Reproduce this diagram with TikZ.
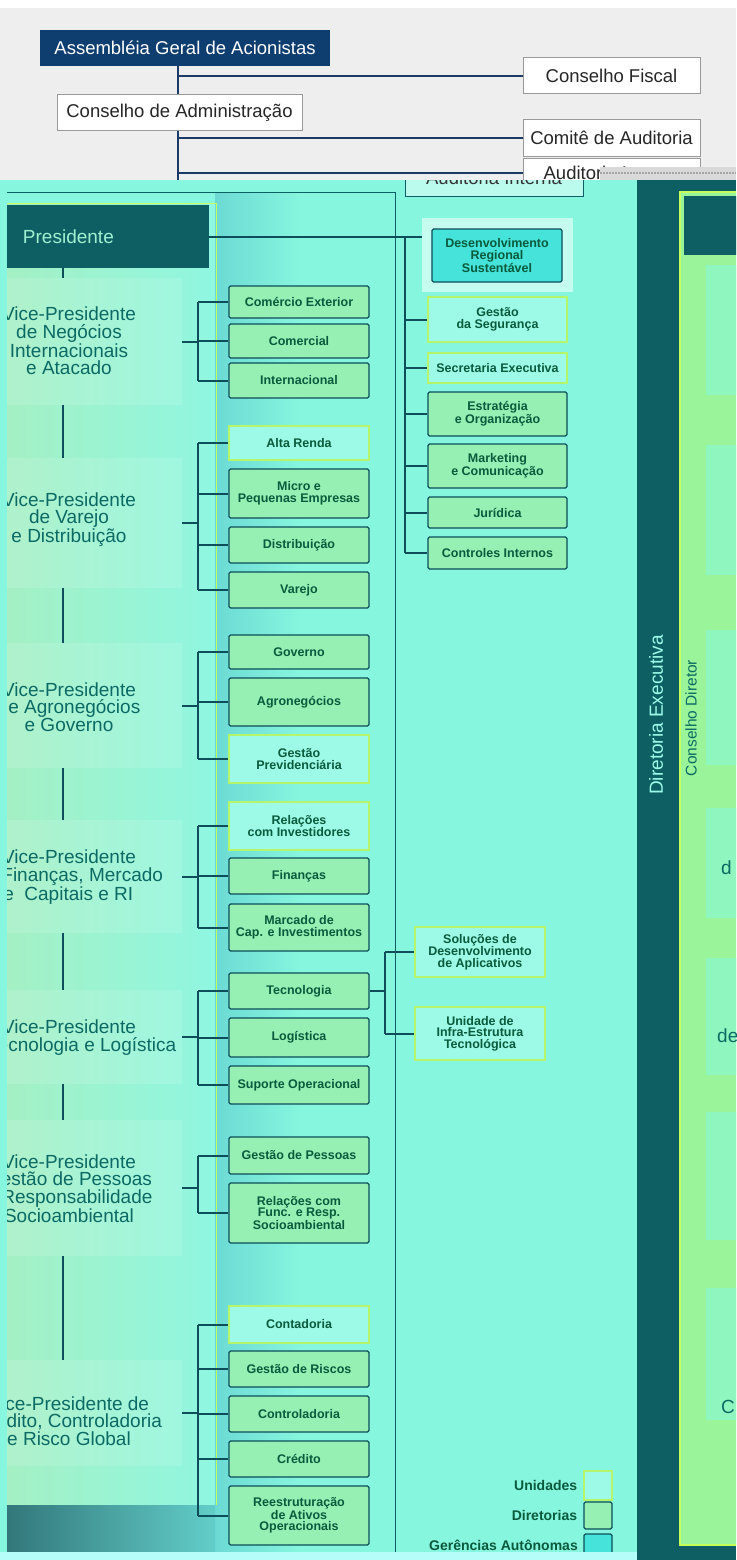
\documentclass[tikz,border=0pt]{standalone}
\usepackage{fontspec}
\setmainfont{Liberation Sans}
\usetikzlibrary{positioning}
\definecolor{navyln}{HTML}{1B3A68}
\definecolor{agcblue}{HTML}{0E3D6F}
\definecolor{topgray}{HTML}{EEEEEE}
\definecolor{aqua}{HTML}{86F6DE}
\definecolor{dkteal}{HTML}{0E5F63}
\definecolor{linkcol}{HTML}{0D4E5A}
\definecolor{txtgreen}{HTML}{0A5A3C}
\definecolor{vpcol}{HTML}{0B6A64}
\definecolor{presfg}{HTML}{9FF0D0}
\definecolor{unitfill}{HTML}{9CFAE6}
\definecolor{unitedge}{HTML}{B4F56A}
\definecolor{dirfill}{HTML}{96F0B4}
\definecolor{gerfill}{HTML}{45E3D9}
\definecolor{panelgreen}{HTML}{9AF59A}
\definecolor{limeedge}{HTML}{C6FF5A}
\definecolor{leftgreen}{HTML}{A4F0C4}
\definecolor{bandcyan}{HTML}{6CDAD4}
\newcommand{\boxfont}{\fontsize{12.5}{11.5}\selectfont\bfseries}
\newcommand{\vpfont}{\fontsize{19}{17.5}\selectfont}
\newcommand{\topfont}{\fontsize{18.5}{20}\selectfont}

\begin{document}
\begin{tikzpicture}[
        x=1pt, y=-1pt,
        link/.style={draw=linkcol, line width=2pt},
        topline/.style={draw=navyln, line width=2.5pt},
        wbox/.style={draw=gray!80, fill=white, line width=1pt, font=\topfont, text=black!85,
            minimum width=177pt, minimum height=36pt, inner sep=2pt},
        base/.style={align=center, font=\boxfont, text=txtgreen, minimum width=140pt, inner sep=1pt},
        unitbox/.style={base, fill=unitfill, draw=unitedge, line width=1.2pt},
        dirbox/.style={base, fill=dirfill, draw=linkcol, line width=1.3pt, rounded corners=1.5pt},
        gerbox/.style={base, fill=gerfill, draw=linkcol, line width=1.3pt, rounded corners=1.5pt},
        vppanel/.style={fill=white, fill opacity=0.12, minimum width=175pt, inner sep=0pt},
        vptext/.style={align=center, font=\vpfont, text=vpcol, inner sep=0pt},
        legtext/.style={font=\fontsize{14}{16}\selectfont\bfseries, text=txtgreen, inner sep=0pt}
    ]
    \useasboundingbox (0,0) rectangle (736,1560);

    % conselhos
    \begin{scope}
        \clip (0,0) rectangle (736,180);
        \fill[white] (0,0) rectangle (736,180);
        \fill[topgray] (0,8) rectangle (736,180);
        \node[fill=agcblue, text=white, font=\topfont, minimum width=290pt, minimum height=36pt] (agc) at (185,48) {Assembléia Geral de Acionistas};
        \node[wbox, minimum width=245pt] (cadm) at (179.5,113) {Conselho de Administração};
        \node[wbox] (cfis) at (611.5,76) {Conselho Fiscal};
        \node[wbox] (caud) at (611.5,138) {Comitê de Auditoria};
        \node[wbox, minimum height=30pt] (audi) at (611.5,173) {Auditoria Interna};
        \coordinate (trunk) at (178,0);
        \coordinate (trunkend) at (178,185);
        \draw[topline] (agc.south -| trunk) -- (cadm.north -| trunk);
        \draw[topline] (cadm.south -| trunk) -- (trunkend);
        \foreach \n in {cfis,caud,audi}
            \draw[topline] (trunk |- \n.west) -- (\n.west);
        \fill[gray!30] (600,167) rectangle (736,180);
        \draw[gray!70, dash pattern=on 1.5pt off 1.5pt, line width=2pt] (600,173) -- (736,173);
    \end{scope}

    \begin{scope}
        \clip (0,180) rectangle (736,1560);
        \fill[aqua] (0,180) rectangle (736,1560);
        \shade[left color=leftgreen, right color=aqua!92!white] (7,203) rectangle (215,1505);
        \shade[left color=bandcyan, right color=aqua] (215,192) rectangle (300,1552);
        \shade[left color=dkteal!85, right color=bandcyan!90!dkteal] (7,1505) rectangle (215,1552);
        \draw[dkteal, line width=0.8pt] (7,192) -- (395,192) -- (395,1552);
        \draw[limeedge, line width=1pt] (7,203) -- (216,203) -- (216,1505);
        \node[draw=dkteal, fill=unitfill!70!white, line width=1pt, font=\topfont, text=black!80,
            minimum width=178pt, minimum height=36pt] (audl) at (494,178) {Auditoria Interna};

        % diretoria executiva
        \fill[dkteal] (637,180) rectangle (736,1560);
        \filldraw[fill=panelgreen, draw=limeedge, line width=1.5pt] (680,192) rectangle (740,1545);
        \fill[dkteal] (684,196) rectangle (740,255);
        \foreach \a/\b in {265/395, 445/575, 630/765, 808/918, 958/1075, 1112/1240, 1288/1420}
            \fill[aqua!55!panelgreen] (706,\a) rectangle (740,\b);
        \node[rotate=90, font=\fontsize{19}{20}\selectfont, text=unitfill] (direx) at (656,715) {Diretoria Executiva};
        \node[rotate=90, font=\fontsize{15.5}{17}\selectfont, text=vpcol] (cdir) at (691,718) {Conselho Diretor};
        \node[vptext, anchor=west] (rf1) at (721,868) {d};
        \node[vptext, anchor=west] (rf2) at (717,1036) {de};
        \node[vptext, anchor=west] (rf3) at (721,1407) {C};

        % presidente
        \node[fill=dkteal, text=presfg, font=\fontsize{19}{20}\selectfont, text width=170pt, align=left,
            inner xsep=16pt, minimum height=63pt] (pres) at (108,236.5) {Presidente};

        % vice-presidencias
        \foreach \n/\y/\h in {vp1/341.5/127, vp2/523/130, vp3/705.5/125, vp4/876.5/113, vp5/1037/94, vp6/1188/136, vp7/1413/106}
            \node[vppanel, minimum height=\h] (\n) at (94.5,\y) {};
        \begin{scope}
            \clip (7,180) rectangle (220,1560);
            \node[vptext] (vp1t) at (69,341) {Vice-Presidente\\de Negócios\\Internacionais\\e Atacado};
            \node[vptext] (vp2t) at (69,519.5) {Vice-Presidente\\de Varejo\\e Distribuição};
            \node[vptext] (vp3t) at (69,707) {Vice-Presidente\\de Agronegócios\\e Governo};
            \node[vptext] (vp4t) at (69,877) {Vice-Presidente\\de Finanças, Mercado\\de\ \ Capitais e RI\hspace*{12pt}};
            \node[vptext] (vp5t) at (69,1037.5) {Vice-Presidente\\de Tecnologia e Logística};
            \node[vptext] (vp6t) at (69,1188.5) {Vice-Presidente\\Gestão de Pessoas\\e Responsabilidade\\Socioambiental};
            \node[vptext] (vp7t) at (69,1421) {Vice-Presidente de\\Crédito, Controladoria\\e Risco Global};
        \end{scope}

        % diretorias e unidades
        \foreach \n/\y/\h/\s/\t in {
                c11/302/32/dirbox/{Comércio Exterior}, c12/341/34/dirbox/{Comercial}, c13/380.5/35/dirbox/{Internacional},
                c21/443/34/unitbox/{Alta Renda}, c22/493.5/49/dirbox/{Micro e\\Pequenas Empresas},
                c23/545/36/dirbox/{Distribuição}, c24/590/36/dirbox/{Varejo},
                c31/652/34/dirbox/{Governo}, c32/702/48/dirbox/{Agronegócios}, c33/759/48/unitbox/{Gestão\\Previdenciária},
                c41/826/48/unitbox/{Relações\\com Investidores}, c42/876/36/dirbox/{Finanças},
                c43/927.5/47/dirbox/{Marcado de\\Cap. e Investimentos},
                c51/991/36/dirbox/{Tecnologia}, c52/1037.5/39/dirbox/{Logística}, c53/1085/38/dirbox/{Suporte Operacional},
                c61/1155.5/37/dirbox/{Gestão de Pessoas}, c62/1213/60/dirbox/{Relações com\\Func. e Resp.\\Socioambiental},
                c71/1324.5/37/unitbox/{Contadoria}, c72/1369/36/dirbox/{Gestão de Riscos}, c73/1414/36/dirbox/{Controladoria},
                c74/1459/36/dirbox/{Crédito}, c75/1515.5/59/dirbox/{Reestruturação\\de Ativos\\Operacionais}}
            \node[\s, minimum height=\h] (\n) at (299,\y) {\t};

        \node[unitbox, minimum width=130pt, minimum height=50pt] (t1) at (480,952) {Soluções de\\Desenvolvimento\\de Aplicativos};
        \node[unitbox, minimum width=130pt, minimum height=53pt] (t2) at (480,1033.5) {Unidade de\\Infra-Estrutura\\Tecnológica};

        % orgaos ligados ao presidente
        \node[fill=unitfill!60!white, minimum width=151pt, minimum height=74pt] (devhalo) at (497.5,255) {};
        \node[gerbox, minimum width=130pt, minimum height=53pt] (s1) at (497,255.5) {Desenvolvimento\\Regional\\Sustentável};
        \foreach \n/\y/\h/\s/\t in {s2/319.5/45/unitbox/{Gestão\\da Segurança}, s3/368/30/unitbox/{Secretaria Executiva},
                s4/414/44/dirbox/{Estratégia\\e Organização}, s5/466/44/dirbox/{Marketing\\e Comunicação},
                s6/512.5/31/dirbox/{Jurídica}, s7/553/32/dirbox/{Controles Internos}}
            \node[\s, minimum width=139pt, minimum height=\h] (\n) at (497.5,\y) {\t};

        % ligacoes
        \coordinate (vspine) at (63,0);
        \coordinate (fork) at (198,0);
        \coordinate (tfork) at (385,0);
        \coordinate (stf) at (405,0);
        \draw[link] (pres.south -| vspine) -- (vp1.north -| vspine);
        \foreach \a/\b in {vp1/vp2, vp2/vp3, vp3/vp4, vp4/vp5, vp5/vp6, vp6/vp7}
            \draw[link] (\a.south -| vspine) -- (\b.north -| vspine);
        \foreach \v/\f/\l in {vp1/c11/c13, vp2/c21/c24, vp3/c31/c33, vp4/c41/c43, vp5/c51/c53, vp6/c61/c62, vp7/c71/c75} {
            \draw[link] (\v.east) -- (fork |- \v.east);
            \draw[link] (fork |- \f.west) -- (fork |- \l.west);
        }
        \foreach \c in {c11,c12,c13,c21,c22,c23,c24,c31,c32,c33,c41,c42,c43,c51,c52,c53,c61,c62,c71,c72,c73,c74,c75}
            \draw[link] (fork |- \c.west) -- (\c.west);
        \draw[link] (c51.east) -- (tfork |- c51.east);
        \draw[link] (tfork |- t1.west) -- (tfork |- t2.west);
        \foreach \n in {t1,t2}
            \draw[link] (tfork |- \n.west) -- (\n.west);
        \draw[link] (pres.east) -- (pres.east -| devhalo.west);
        \draw[link] (stf |- pres.east) -- (stf |- s7.west);
        \foreach \n in {s2,s3,s4,s5,s6,s7}
            \draw[link] (stf |- \n.west) -- (\n.west);

        % legenda
        \node[unitbox, minimum width=28pt, minimum height=29pt] (lg1) at (598,1485.5) {};
        \node[dirbox, minimum width=28pt, minimum height=27pt] (lg2) at (598,1515.5) {};
        \node[gerbox, minimum width=28pt, minimum height=28pt] (lg3) at (598,1548) {};
        \node[legtext, left=6pt of lg1] (lt1) {Unidades};
        \node[legtext, left=6pt of lg2] (lt2) {Diretorias};
        \node[legtext, anchor=east] (lt3) at (578,1545) {Gerências Autônomas};

        \fill[aqua!50!cyan!40!white] (0,1552) rectangle (637,1560);
    \end{scope}
\end{tikzpicture}
\end{document}
